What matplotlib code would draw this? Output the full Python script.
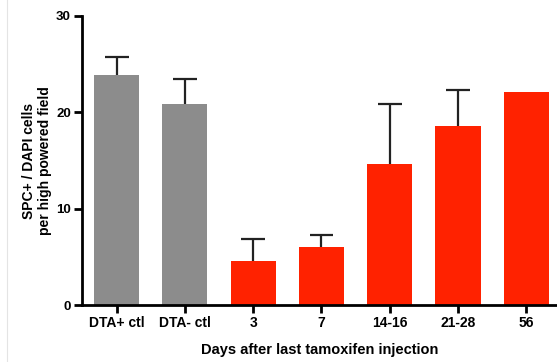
import matplotlib.pyplot as plt

categories = ["DTA+ ctl", "DTA- ctl", "3", "7", "14-16", "21-28", "56"]
means = [23.9, 20.9, 4.6, 6.05, 14.6, 18.55, 22.1]
upper_err = [1.8, 2.5, 2.3, 1.2, 6.3, 3.75, 0.0]
colors = ["#8c8c8c", "#8c8c8c", "#ff2200", "#ff2200", "#ff2200", "#ff2200", "#ff2200"]

plt.rcParams['font.family'] = ['Liberation Sans', 'DejaVu Sans']
plt.rcParams['font.weight'] = 'bold'

fig = plt.figure(figsize=(5.57, 3.62), dpi=100)
ax = fig.add_axes([0.147, 0.157, 0.853, 0.7996])

x = list(range(len(categories)))
ax.bar(x, means, width=0.66, color=colors, zorder=2)

# upper-only error bars (no cap at the bar top)
cap = 0.175
for i in x:
    if upper_err[i] > 0:
        top = means[i] + upper_err[i]
        ax.vlines(i, means[i], top, color='#222222', lw=1.6, zorder=1)
        ax.hlines(top, i - cap, i + cap, color='#222222', lw=1.6, zorder=1)

ax.set_xlim(-0.51, 6.45)
ax.set_ylim(0, 30)
ax.set_yticks([0, 10, 20, 30])
ax.set_xticks(x)
ax.set_xticklabels(categories)
ax.spines['top'].set_visible(False)
ax.spines['right'].set_visible(False)
ax.spines['left'].set_linewidth(2)
ax.spines['bottom'].set_linewidth(2)
ax.tick_params(axis='both', width=2, length=6, pad=2)
ax.tick_params(axis='x', labelsize=10)
ax.tick_params(axis='y', labelsize=9.5)
for lab in ax.get_xticklabels() + ax.get_yticklabels():
    lab.set_fontweight('bold')

ax.set_ylabel("SPC+ / DAPI cells\nper high powered field", fontsize=10, fontweight='bold', labelpad=3)
ax.set_xlabel("Days after last tamoxifen injection", fontsize=10.5, fontweight='bold', labelpad=9)

fig.add_artist(plt.Line2D([0.013, 0.013], [0, 1], color='#e4e4e4', lw=0.8))

plt.savefig("out.png", dpi=100)
